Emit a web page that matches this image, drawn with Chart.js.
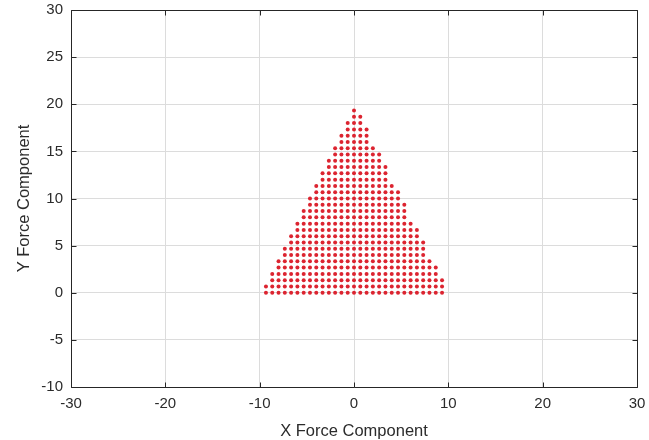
<!DOCTYPE html>
<html>
<head>
<meta charset="utf-8">
<script src="https://cdn.jsdelivr.net/npm/chart.js@4/dist/chart.umd.min.js"></script>
<style>
  html, body { margin: 0; padding: 0; background: #fff; }
  #wrap { width: 649px; height: 440px; }
</style>
</head>
<body>
<div id="wrap"><canvas id="c" width="649" height="440"></canvas></div>
<script>
// ---- data ----
// spacing of the sampled force grid (force units)
const gridStep = 2 / 3;
// row index j (y = j * gridStep), bottom row first
const rowIndex = [0,1,2,3,4,5,6,7,8,9,10,11,12,13,14,15,16,17,18,19,20,21,22,23,24,25,26,27,28,29];
// leftmost / rightmost column index of each row (x = k * gridStep)
const rowLeftCol  = [-14,-14,-13,-13,-12,-12,-11,-11,-10,-10,-9,-9,-8,-8,-7,-7,-6,-6,-5,-5,-4,-4,-3,-3,-2,-2,-1,-1,0,0];
const rowRightCol = [14,14,14,13,13,12,11,11,11,10,10,9,8,8,8,7,7,6,5,5,5,4,4,3,2,2,2,1,1,0];
// axes
const xTicks = [-30,-20,-10,0,10,20,30];
const yTicks = [-10,-5,0,5,10,15,20,25,30];
const xLabel = 'X Force Component';
const yLabel = 'Y Force Component';

// build point table from the rows
const points = [];
rowIndex.forEach((j, i) => {
  for (let k = rowLeftCol[i]; k <= rowRightCol[i]; k++) {
    points.push({ x: k * gridStep, y: j * gridStep });
  }
});

const boxPlugin = {
  id: 'box',
  afterDraw(chart) {
    const { ctx, chartArea: a, scales } = chart;
    ctx.save();
    ctx.strokeStyle = '#262626';
    ctx.lineWidth = 1;
    ctx.beginPath();
    const L = Math.round(a.left) + 0.5, R = Math.round(a.right) + 0.5;
    const T = Math.round(a.top) + 0.5, B = Math.round(a.bottom) + 0.5;
    ctx.rect(L, T, R - L, B - T);
    const tl = 5;
    xTicks.forEach(v => {
      const p = Math.round(scales.x.getPixelForValue(v)) + 0.5;
      ctx.moveTo(p, B); ctx.lineTo(p, B - tl);
      ctx.moveTo(p, T); ctx.lineTo(p, T + tl);
    });
    yTicks.forEach(v => {
      const p = Math.round(scales.y.getPixelForValue(v)) + 0.5;
      ctx.moveTo(L, p); ctx.lineTo(L + tl, p);
      ctx.moveTo(R, p); ctx.lineTo(R - tl, p);
    });
    ctx.stroke();
    ctx.restore();
  }
};

const tickFont = { family: '"Liberation Sans", Arial, sans-serif', size: 15 };
const titleFont = { family: '"Liberation Sans", Arial, sans-serif', size: 16.5 };

new Chart(document.getElementById('c'), {
  type: 'scatter',
  data: {
    datasets: [{
      data: points,
      pointRadius: 2,
      pointHoverRadius: 2,
      pointBorderWidth: 0,
      backgroundColor: '#dc2430',
      borderColor: '#dc2430'
    }]
  },
  options: {
    responsive: false,
    animation: false,
    events: [],
    layout: { padding: { top: 10, right: 12, left: 0, bottom: 0 } },
    plugins: { legend: { display: false }, tooltip: { enabled: false } },
    scales: {
      x: {
        type: 'linear', min: -30, max: 30,
        afterBuildTicks(s) { s.ticks = xTicks.map(v => ({ value: v })); },
        afterFit(s) { s.height = 53; s.paddingLeft = 0; s.paddingRight = 0; },
        grid: { color: '#dcdcdc', drawTicks: false, lineWidth: 1 },
        border: { display: false },
        ticks: { color: '#2b2b2b', font: tickFont, padding: 8, maxRotation: 0 },
        title: { display: true, text: xLabel, color: '#2b2b2b', font: titleFont, padding: { top: 0, bottom: -1 } }
      },
      y: {
        type: 'linear', min: -10, max: 30,
        afterBuildTicks(s) { s.ticks = yTicks.map(v => ({ value: v })); },
        afterFit(s) { s.width = 71; s.paddingTop = 0; s.paddingBottom = 0; },
        grid: { color: '#dcdcdc', drawTicks: false, lineWidth: 1 },
        border: { display: false },
        ticks: { color: '#2b2b2b', font: tickFont, padding: 8 },
        title: { display: true, text: yLabel, color: '#2b2b2b', font: titleFont, padding: { top: 15, bottom: 0 } }
      }
    }
  },
  plugins: [boxPlugin]
});
</script>
</body>
</html>
